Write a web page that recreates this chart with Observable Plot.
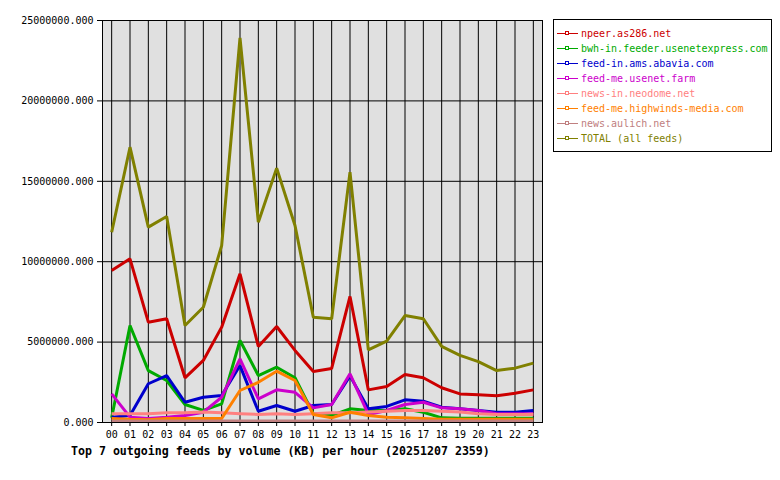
<!DOCTYPE html>
<html>
<head>
<meta charset="utf-8">
<script src="https://cdn.jsdelivr.net/npm/d3@7"></script>
<script src="https://cdn.jsdelivr.net/npm/@observablehq/plot@0.6"></script>
<style>
  html, body { margin: 0; padding: 0; background: #fff; }
  #wrap { position: relative; width: 780px; height: 480px; font-family: "DejaVu Sans Mono", "Liberation Mono", monospace; }
  #legend { position: absolute; left: 553px; top: 19px; width: 217px; height: 131px; border: 1px solid #000; background: #fff; }
  .item { position: absolute; left: 3px; height: 15px; display: flex; align-items: center; font-size: 10px; white-space: nowrap; }
  .item svg { margin-right: 3px; }
  #title { position: absolute; left: 71px; top: 444px; font-size: 11.6px; font-weight: bold; color: #000; white-space: nowrap; }
</style>
</head>
<body>
<div id="wrap">
  <div id="chart"></div>
  <div id="legend"></div>
  <div id="title">Top 7 outgoing feeds by volume (KB) per hour (20251207 2359)</div>
</div>
<script>
// Hours of the day (x categories)
const hours = ["00","01","02","03","04","05","06","07","08","09","10","11",
               "12","13","14","15","16","17","18","19","20","21","22","23"];

// Outgoing volume per hour, in KB
const npeer  = [9450000,10180000,6240000,6450000,2780000,3860000,5930000,9250000,4730000,5970000,4480000,3170000,
                3360000,7840000,2030000,2240000,2990000,2780000,2160000,1780000,1720000,1660000,1820000,2030000];
const bwhIn  = [300000,6030000,3230000,2610000,1120000,750000,1160000,5100000,2920000,3440000,2780000,540000,
                440000,850000,750000,750000,850000,640000,290000,270000,270000,270000,270000,270000];
const feedIn = [330000,440000,2410000,2920000,1260000,1570000,1680000,3540000,700000,1060000,700000,1060000,
                1120000,2900000,850000,1000000,1410000,1320000,950000,850000,750000,640000,640000,750000];
const feedMe = [1780000,330000,250000,330000,440000,640000,1570000,3960000,1470000,2030000,1880000,910000,
                1120000,3030000,500000,750000,1120000,1260000,910000,850000,750000,540000,540000,540000];
const neodome = [550000,550000,550000,600000,600000,650000,600000,550000,500000,550000,500000,550000,
                 600000,600000,650000,700000,750000,750000,700000,650000,550000,500000,500000,500000];
const highwinds = [250000,200000,170000,250000,250000,250000,250000,1990000,2500000,3190000,2610000,500000,
                   290000,640000,440000,330000,290000,250000,200000,200000,200000,200000,200000,200000];
const aulich = [100000,100000,100000,100000,100000,100000,100000,100000,100000,100000,100000,100000,
                100000,100000,100000,100000,100000,100000,100000,100000,100000,100000,100000,100000];
const total  = [11830000,17120000,12150000,12810000,6030000,7170000,11000000,23920000,12460000,15820000,12250000,6550000,
                6450000,15570000,4520000,5060000,6650000,6450000,4730000,4170000,3790000,3230000,3380000,3690000];

const feedNames = ["npeer.as286.net","bwh-in.feeder.usenetexpress.com","feed-in.ams.abavia.com",
                   "feed-me.usenet.farm","news-in.neodome.net","feed-me.highwinds-media.com",
                   "news.aulich.net","TOTAL (all feeds)"];
const feedColors = ["#cc0000","#00aa00","#0000cc","#cc00cc","#ff8080","#ff8000","#c08080","#808000"];
const feedValues = [npeer, bwhIn, feedIn, feedMe, neodome, highwinds, aulich, total];

const yTicks = [0, 5000000, 10000000, 15000000, 20000000, 25000000];

const rows = feedValues.flatMap((vals, i) =>
  vals.map((v, j) => ({feed: feedNames[i], hour: hours[j], value: v})));

const chart = Plot.plot({
  width: 780,
  height: 480,
  marginLeft: 102,
  marginRight: 238,
  marginTop: 20,
  marginBottom: 58,
  style: {fontFamily: "DejaVu Sans Mono, monospace", fontSize: "10px", background: "transparent", color: "#000"},
  x: {type: "point", domain: hours, padding: 0.5, round: false},
  y: {domain: [0, 25000000]},
  color: {domain: feedNames, range: feedColors},
  marks: [
    Plot.frame({fill: "#e0e0e0", stroke: null}),
    Plot.gridX(hours, {stroke: "#000", strokeOpacity: 1, strokeWidth: 1}),
    Plot.gridY(yTicks, {stroke: "#000", strokeOpacity: 1, strokeWidth: 1}),
    Plot.line(rows, {x: "hour", y: "value", z: "feed", stroke: "feed", strokeWidth: 3,
                     strokeLinejoin: "miter", strokeLinecap: "butt"}),
    Plot.frame({stroke: "#000", strokeWidth: 1}),
    Plot.axisX(hours, {tickSize: 4, tickPadding: 4, label: null, stroke: "#000", fill: "#000"}),
    Plot.axisY(yTicks, {tickSize: 5, tickPadding: 4, label: null, tickFormat: d3.format(".3f"),
                        stroke: "#000", fill: "#000"})
  ]
});
document.getElementById("chart").appendChild(chart);

// Legend: sample line with a small square marker, then the feed name
const legend = document.getElementById("legend");
feedNames.forEach((name, i) => {
  const item = document.createElement("div");
  item.className = "item";
  item.style.top = (6 + i * 15) + "px";
  item.style.color = feedColors[i];
  item.innerHTML =
    `<svg width="21" height="7"><line x1="0" y1="3.5" x2="21" y2="3.5" stroke="${feedColors[i]}" stroke-width="1"/>` +
    `<rect x="8.5" y="1.5" width="3" height="3" fill="#fff" stroke="${feedColors[i]}" stroke-width="1"/></svg>` +
    `<span>${name}</span>`;
  legend.appendChild(item);
});
</script>
</body>
</html>
